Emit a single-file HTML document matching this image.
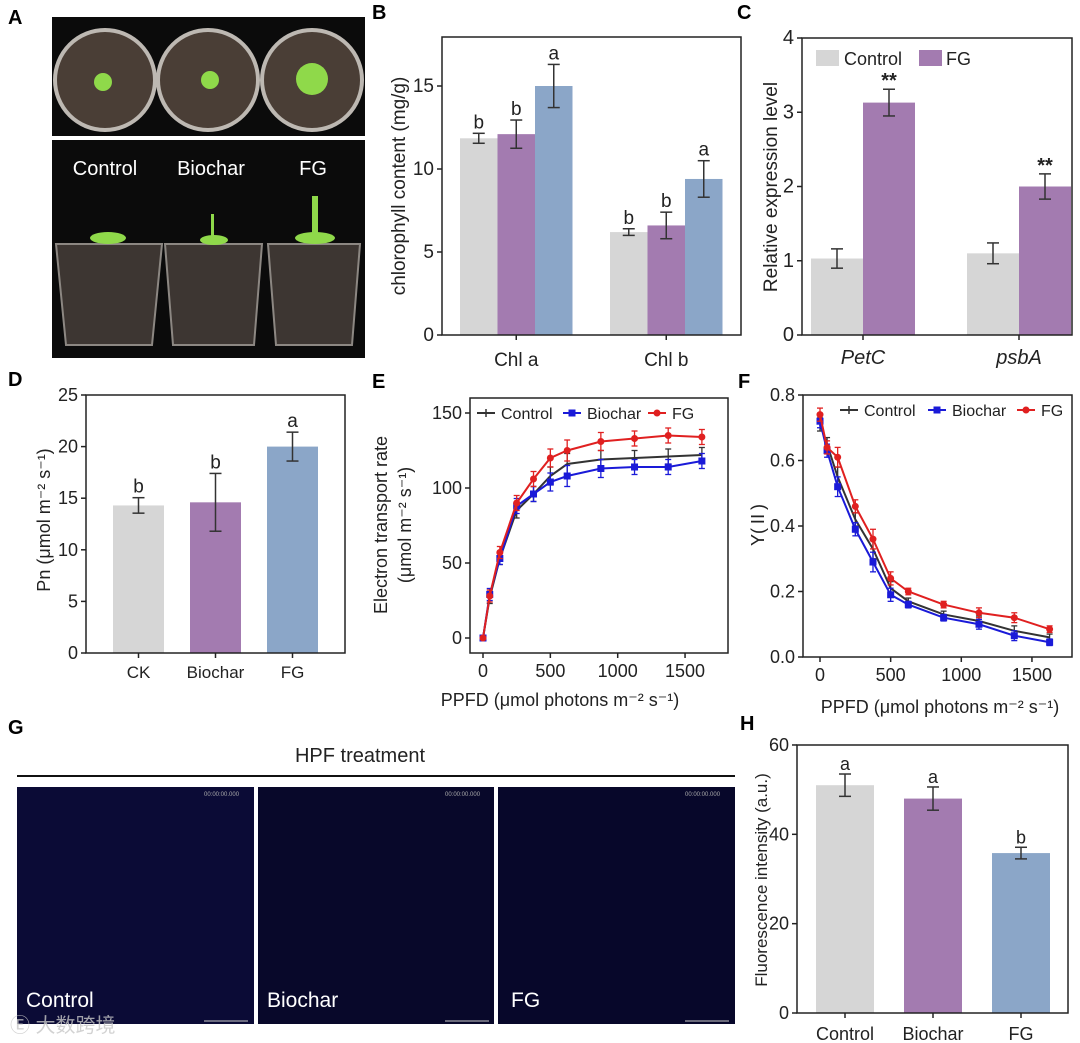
<!DOCTYPE html>
<html><head><meta charset="utf-8">
<style>
html,body{margin:0;padding:0;background:#fff;}
svg{display:block;font-family:"Liberation Sans","Noto Sans CJK SC",sans-serif;}
</style></head>
<body>
<svg id="fig" width="1080" height="1043" viewBox="0 0 1080 1043" xmlns="http://www.w3.org/2000/svg">
<!-- Panel letters -->
<g font-weight="bold" font-size="20" fill="#000">
<text x="8" y="24">A</text><text x="372" y="19">B</text><text x="737" y="19">C</text>
<text x="8" y="386">D</text><text x="372" y="388">E</text><text x="738" y="388">F</text>
<text x="8" y="734">G</text><text x="740" y="730">H</text>
</g>
<!-- Panel A photos -->
<g>
<rect x="52" y="17" width="313" height="119" fill="#0b0b0b"/>
<g fill="#4a3e36" stroke="#bdb8b2" stroke-width="4">
<circle cx="105" cy="80" r="50"/><circle cx="208" cy="80" r="50"/><circle cx="312" cy="80" r="50"/></g>
<g fill="#8fd94a"><circle cx="103" cy="82" r="9"/><circle cx="210" cy="80" r="9"/><circle cx="312" cy="79" r="16"/></g>
<rect x="52" y="140" width="313" height="218" fill="#0b0b0b"/>
<g fill="#3d3632" stroke="#8c8782" stroke-width="2">
<path d="M56 244 L162 244 L152 345 L66 345 Z"/><path d="M165 244 L262 244 L254 345 L173 345 Z"/><path d="M268 244 L360 244 L352 345 L276 345 Z"/></g>
<g fill="#8fd94a"><ellipse cx="108" cy="238" rx="18" ry="6"/><ellipse cx="214" cy="240" rx="14" ry="5"/><ellipse cx="315" cy="238" rx="20" ry="6"/><rect x="312" y="196" width="6" height="42"/><rect x="211" y="214" width="3" height="26"/></g>
<g fill="#fff" font-size="20" text-anchor="middle">
<text x="105" y="175">Control</text><text x="211" y="175">Biochar</text><text x="313" y="175">FG</text></g>
</g>
<g id="charts"></g>
<!-- Panel G -->
<g>
<text x="360" y="762" font-size="20" text-anchor="middle" fill="#222">HPF treatment</text>
<line x1="17" y1="776" x2="735" y2="776" stroke="#111" stroke-width="2"/>
<rect x="17" y="787" width="237" height="237" fill="#0b0b36"/>
<rect x="258" y="787" width="236" height="237" fill="#08082a"/>
<rect x="498" y="787" width="237" height="237" fill="#07072a"/>
<g fill="#fff" font-size="21">
<text x="26" y="1007">Control</text><text x="267" y="1007">Biochar</text><text x="511" y="1007">FG</text></g>
<g fill="#aaa" font-size="6"><text x="204" y="796">00:00:00.000</text><text x="445" y="796">00:00:00.000</text><text x="685" y="796">00:00:00.000</text></g>
<g stroke="#ccc" stroke-width="1"><line x1="204" y1="1021" x2="248" y2="1021"/><line x1="445" y1="1021" x2="489" y2="1021"/><line x1="685" y1="1021" x2="729" y2="1021"/></g>
<text x="10" y="1032" font-size="20" fill="#c8c8c8" opacity="0.8">Ⓔ 大数跨境</text>
</g>
</svg>
<script>
// ---- Data ----
const bGroups=["Chl a","Chl b"];
const bControl=[11.85,6.2], bControlErr=[0.3,0.2];
const bBiochar=[12.1,6.6], bBiocharErr=[0.85,0.8];
const bFG=[15.0,9.4], bFGErr=[1.3,1.1];
const bLetters=[["b","b","a"],["b","b","a"]];
const bTicks=[0,5,10,15];

const cGenes=["PetC","psbA"];
const cControl=[1.03,1.1], cControlErr=[0.13,0.14];
const cFG=[3.13,2.0], cFGErr=[0.18,0.17];
const cTicks=[0,1,2,3,4];

const dCats=["CK","Biochar","FG"];
const dVals=[14.3,14.6,20.0], dErr=[0.75,2.8,1.4], dLetters=["b","b","a"];
const dTicks=[0,5,10,15,20,25];

const hCats=["Control","Biochar","FG"];
const hVals=[51,48,35.8], hErr=[2.5,2.6,1.3], hLetters=["a","a","b"];
const hTicks=[0,20,40,60];

const ppfd=[0,50,125,250,375,500,625,875,1125,1375,1625];
const eControl=[0,27,53,85,96,108,116,119,120,121,122];
const eBiochar=[0,29,53,88,96,104,108,113,114,114,118];
const eFG=[0,28,57,90,106,120,125,131,133,135,134];
const eErr=[1,4,4,5,5,6,7,6,5,5,5];
const eTicksY=[0,50,100,150], xTicks=[0,500,1000,1500];
const fControl=[0.71,0.65,0.55,0.42,0.33,0.21,0.17,0.13,0.11,0.08,0.06];
const fBiochar=[0.72,0.63,0.52,0.39,0.29,0.19,0.16,0.12,0.10,0.065,0.045];
const fFG=[0.74,0.64,0.61,0.46,0.36,0.24,0.20,0.16,0.135,0.12,0.085];
const fErr=[0.02,0.02,0.03,0.02,0.03,0.02,0.01,0.01,0.015,0.015,0.01];
const fTicksY=[0,0.2,0.4,0.6,0.8];

const NS="http://www.w3.org/2000/svg";
const root=document.getElementById('charts');
function el(tag,attrs,parent,txt){const e=document.createElementNS(NS,tag);for(const k in attrs)e.setAttribute(k,attrs[k]);if(txt!==undefined)e.textContent=txt;(parent||root).appendChild(e);return e;}
const GRAY="#d6d6d6",PURP="#a37bb0",BLUE="#8ba6c8";

function frame(g,x0,x1,y0,y1,ticks,ys,fmt,fs){
  el('rect',{x:x0,y:y0,width:x1-x0,height:y1-y0,fill:'none',stroke:'#222','stroke-width':1.5},g);
  ticks.forEach(t=>{const y=ys(t);
    el('line',{x1:x0-5,x2:x0,y1:y,y2:y,stroke:'#222','stroke-width':1.5},g);
    const lab=el('text',{x:x0-8,y:y+6,'font-size':fs||19,'text-anchor':'end',fill:'#222'},g,fmt?fmt(t):t);
    
    
  });
}
function bar(g,x,w,v,e,ys,color,name){
  const r=el('rect',{x:x,y:ys(v),width:w,height:ys(0)-ys(v),fill:color},g);
  
  
  const cx=x+w/2;
  el('line',{x1:cx,x2:cx,y1:ys(v-e),y2:ys(v+e),stroke:'#333','stroke-width':1.5},g);
  el('line',{x1:cx-6,x2:cx+6,y1:ys(v-e),y2:ys(v-e),stroke:'#333','stroke-width':1.5},g);
  el('line',{x1:cx-6,x2:cx+6,y1:ys(v+e),y2:ys(v+e),stroke:'#333','stroke-width':1.5},g);
}

// ---- Panel B ----
(function(){
  const g=el('g',{});
  const ys=v=>335-v*16.6;
  const starts=[460,610],w=37.5;
  bGroups.forEach((name,i)=>{
    const vals=[bControl[i],bBiochar[i],bFG[i]],errs=[bControlErr[i],bBiocharErr[i],bFGErr[i]],cols=[GRAY,PURP,BLUE];
    vals.forEach((v,j)=>{const x=starts[i]+j*w;bar(g,x,w,v,errs[j],ys,cols[j],'bar-'+name.replace(' ','-').toLowerCase()+'-'+j);
      el('text',{x:x+w/2,y:ys(v+errs[j])-5,'font-size':19,'text-anchor':'middle',fill:'#222'},g,bLetters[i][j]);});
    const cx=starts[i]+1.5*w;
    el('line',{x1:cx,x2:cx,y1:335,y2:340,stroke:'#222','stroke-width':1.5},g);
    el('text',{x:cx,y:366,'font-size':19,'text-anchor':'middle',fill:'#222'},g,name);
  });
  frame(g,442,741,37,335,bTicks,ys);
  el('text',{x:0,y:0,'font-size':19,'text-anchor':'middle',fill:'#222',transform:'translate(405,186) rotate(-90)'},g,'chlorophyll content (mg/g)');
})();

// ---- Panel C ----
(function(){
  const g=el('g',{});
  const ys=v=>335-v*74.25;
  const starts=[811,967],w=52;
  cGenes.forEach((name,i)=>{
    bar(g,starts[i],w,cControl[i],cControlErr[i],ys,GRAY,'bar-control-'+name);
    bar(g,starts[i]+w,w,cFG[i],cFGErr[i],ys,PURP,'bar-fg-'+name);
    el('text',{x:starts[i]+1.5*w,y:ys(cFG[i]+cFGErr[i])-2,'font-size':20,'font-weight':'bold','text-anchor':'middle',fill:'#222'},g,'**');
    const cx=starts[i]+w;
    el('line',{x1:cx,x2:cx,y1:335,y2:340,stroke:'#222','stroke-width':1.5},g);
    el('text',{x:cx,y:364,'font-size':20,'font-style':'italic','text-anchor':'middle',fill:'#222'},g,name);
  });
  frame(g,802,1072,38,335,cTicks,ys,null,20);
  el('text',{x:0,y:0,'font-size':19,'text-anchor':'middle',fill:'#222',transform:'translate(777,187) rotate(-90)'},g,'Relative expression level');
  el('rect',{x:816,y:50,width:23,height:16,fill:GRAY},g);
  el('text',{x:844,y:65,'font-size':18,fill:'#222'},g,'Control');
  el('rect',{x:919,y:50,width:23,height:16,fill:PURP},g);
  el('text',{x:946,y:65,'font-size':18,fill:'#222'},g,'FG');
})();

// ---- Panel D ----
(function(){
  const g=el('g',{});
  const ys=v=>653-v*10.32;
  const xs=[113,190,267],w=51,cols=[GRAY,PURP,BLUE];
  dCats.forEach((c,i)=>{
    bar(g,xs[i],w,dVals[i],dErr[i],ys,cols[i],'bar-'+c.toLowerCase());
    el('text',{x:xs[i]+w/2,y:ys(dVals[i]+dErr[i])-5,'font-size':19,'text-anchor':'middle',fill:'#222'},g,dLetters[i]);
    el('line',{x1:xs[i]+w/2,x2:xs[i]+w/2,y1:653,y2:658,stroke:'#222','stroke-width':1.5},g);
    el('text',{x:xs[i]+w/2,y:678,'font-size':17,'text-anchor':'middle',fill:'#222'},g,c);
  });
  frame(g,86,345,395,653,dTicks,ys,null,18);
  el('text',{x:0,y:0,'font-size':18,'text-anchor':'middle',fill:'#222',transform:'translate(50,520) rotate(-90)'},g,'Pn (μmol m⁻² s⁻¹)');
})();

// ---- Panel H ----
(function(){
  const g=el('g',{});
  const ys=v=>1013-v*4.467;
  const xs=[816,904,992],w=58,cols=[GRAY,PURP,BLUE];
  hCats.forEach((c,i)=>{
    bar(g,xs[i],w,hVals[i],hErr[i],ys,cols[i],'bar-'+c.toLowerCase());
    el('text',{x:xs[i]+w/2,y:ys(hVals[i]+hErr[i])-4,'font-size':18,'text-anchor':'middle',fill:'#222'},g,hLetters[i]);
    el('line',{x1:xs[i]+w/2,x2:xs[i]+w/2,y1:1013,y2:1018,stroke:'#222','stroke-width':1.5},g);
    el('text',{x:xs[i]+w/2,y:1040,'font-size':18,'text-anchor':'middle',fill:'#222'},g,c);
  });
  frame(g,797,1068,745,1013,hTicks,ys,null,18);
  el('text',{x:0,y:0,'font-size':17,'text-anchor':'middle',fill:'#222',transform:'translate(767,880) rotate(-90)'},g,'Fluorescence intensity (a.u.)');
})();

// ---- Line charts ----
function lineChart(name,x0,x1,y0,y1,xs,ys,series,errs,yTicks,fmt){
  const g=el('g',{});
  frame(g,x0,x1,y0,y1,yTicks,ys,fmt,18);
  xTicks.forEach(t=>{el('line',{x1:xs(t),x2:xs(t),y1:y1,y2:y1+5,stroke:'#222','stroke-width':1.5},g);
    el('text',{x:xs(t),y:y1+24,'font-size':18,'text-anchor':'middle',fill:'#222'},g,t);});
  series.forEach(s=>{
    const pts=ppfd.map((p,i)=>xs(p)+','+ys(s.v[i])).join(' ');
    const pl=el('polyline',{points:pts,fill:'none',stroke:s.c,'stroke-width':2},g);
    
    
    ppfd.forEach((p,i)=>{const x=xs(p),y=ys(s.v[i]),e=errs[i];
      el('line',{x1:x,x2:x,y1:ys(s.v[i]-e),y2:ys(s.v[i]+e),stroke:s.c,'stroke-width':1.3},g);
      el('line',{x1:x-3,x2:x+3,y1:ys(s.v[i]+e),y2:ys(s.v[i]+e),stroke:s.c,'stroke-width':1.3},g);
      el('line',{x1:x-3,x2:x+3,y1:ys(s.v[i]-e),y2:ys(s.v[i]-e),stroke:s.c,'stroke-width':1.3},g);
      if(s.m==='sq')el('rect',{x:x-3.5,y:y-3.5,width:7,height:7,fill:s.c},g);
      else if(s.m==='ci')el('circle',{cx:x,cy:y,r:3.5,fill:s.c},g);
    });
  });
  return g;
}
function legend(g,items,y){items.forEach(it=>{
  el('line',{x1:it.x,x2:it.x+18,y1:y,y2:y,stroke:it.c,'stroke-width':2},g);
  if(it.m==='sq')el('rect',{x:it.x+5.5,y:y-3.5,width:7,height:7,fill:it.c},g);
  else if(it.m==='ci')el('circle',{cx:it.x+9,cy:y,r:3.5,fill:it.c},g);
  else el('line',{x1:it.x+9,x2:it.x+9,y1:y-4,y2:y+4,stroke:it.c,'stroke-width':1.5},g);
  el('text',{x:it.x+24,y:y+6,'font-size':16,fill:'#222'},g,it.t);});}

(function(){
  const xs=v=>483+v*0.1347, ys=v=>638-v*1.5;
  const g=lineChart('panel-e-etr',470,728,398,653,xs,ys,
    [{n:'control',v:eControl,c:'#333',m:'none'},{n:'biochar',v:eBiochar,c:'#1a1ad8',m:'sq'},{n:'fg',v:eFG,c:'#e02020',m:'ci'}],eErr,eTicksY);
  legend(g,[{x:477,c:'#333',m:'none',t:'Control'},{x:563,c:'#1a1ad8',m:'sq',t:'Biochar'},{x:648,c:'#e02020',m:'ci',t:'FG'}],413);
  el('text',{x:0,y:0,'font-size':18,'text-anchor':'middle',fill:'#222',transform:'translate(387,525) rotate(-90)'},g,'Electron transport rate');
  el('text',{x:0,y:0,'font-size':18,'text-anchor':'middle',fill:'#222',transform:'translate(411,525) rotate(-90)'},g,'(μmol m⁻² s⁻¹)');
  el('text',{x:560,y:706,'font-size':18,'text-anchor':'middle',fill:'#222'},g,'PPFD (μmol photons m⁻² s⁻¹)');
})();
(function(){
  const xs=v=>820+v*0.1413, ys=v=>657-v*327.5;
  const g=lineChart('panel-f-yii',803,1072,395,657,xs,ys,
    [{n:'control',v:fControl,c:'#333',m:'none'},{n:'biochar',v:fBiochar,c:'#1a1ad8',m:'sq'},{n:'fg',v:fFG,c:'#e02020',m:'ci'}],fErr,fTicksY,t=>t.toFixed(1));
  legend(g,[{x:840,c:'#333',m:'none',t:'Control'},{x:928,c:'#1a1ad8',m:'sq',t:'Biochar'},{x:1017,c:'#e02020',m:'ci',t:'FG'}],410);
  el('text',{x:0,y:0,'font-size':18,'text-anchor':'middle',fill:'#222',transform:'translate(764,525) rotate(-90)'},g,'Y(Ⅱ)');
  el('text',{x:940,y:713,'font-size':18,'text-anchor':'middle',fill:'#222'},g,'PPFD (μmol photons m⁻² s⁻¹)');
})();
</script>
</body></html>
